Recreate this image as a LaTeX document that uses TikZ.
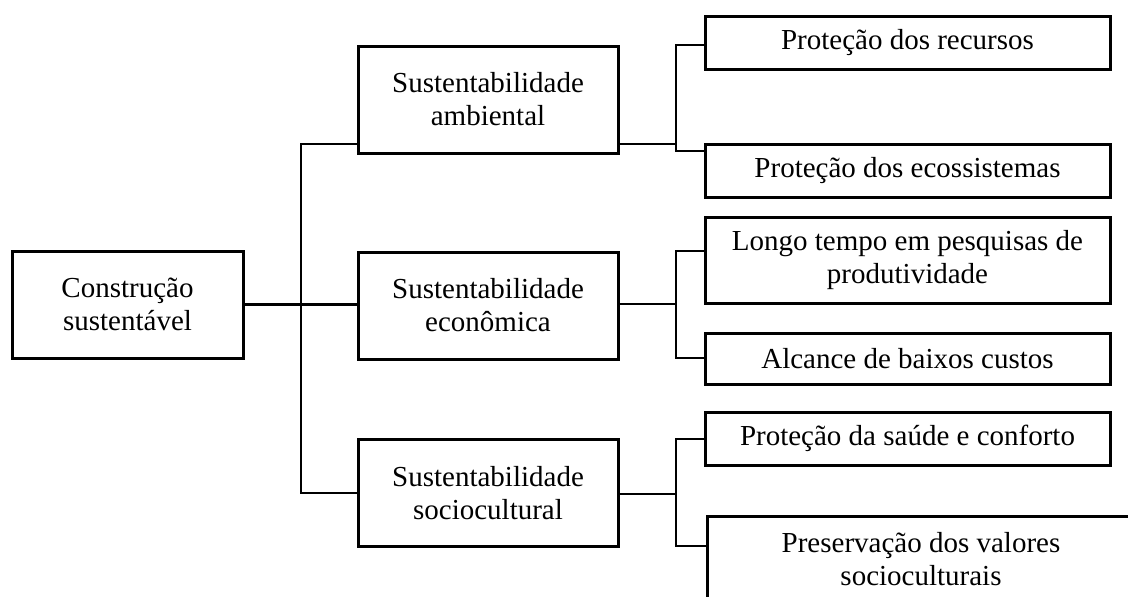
\documentclass[tikz,border=0pt]{standalone}
\usepackage{fontspec}
\setmainfont{Liberation Serif}
\usetikzlibrary{positioning,calc}
\tikzset{
	caixa/.style={draw,line width=1.5pt,inner sep=0pt,align=center,font=\fontsize{14.5}{16.5}\selectfont},
	raiz/.style={caixa,minimum width=115.5pt,minimum height=53.5pt},
	pilar/.style={caixa,minimum width=130pt,minimum height=53.5pt},
	item/.style={caixa,minimum width=202.5pt,minimum height=26.5pt},
	liga/.style={line width=1.4pt,line cap=rect}
}
\begin{document}
\begin{tikzpicture}[x=0.5pt,y=-0.5pt]
	\useasboundingbox (0,0) rectangle (1128,596);
	\clip (0,0) rectangle (1128,596);
	%%%raiz e pilares
	\node[raiz] (cs) at (127.5,304.5) {Construção\\sustentável};
	\node[pilar] (amb) at (488,99.5) {Sustentabilidade\\ambiental};
	\node[pilar] (eco) at (488,305.5) {Sustentabilidade\\econômica};
	\node[pilar] (soc) at (488,493) {Sustentabilidade\\sociocultural};
	
	%%%itens
	\node[item] (rec) at (907.5,42.5) {Proteção dos recursos};
	\node[item] (ecs) at (907.5,170.5) {Proteção dos ecossistemas};
	\node[item,minimum height=43pt] (lon) at (907.5,260) {Longo tempo em pesquisas de\\produtividade};
	\node[item,minimum height=25.5pt] (alc) at (907.5,358.5) {Alcance de baixos custos};
	\node[item] (sau) at (907.5,438.5) {Proteção da saúde e conforto};
	\node[item,minimum width=214pt,minimum height=43pt] (pre) at (921,559) {Preservação dos valores\\socioculturais};
	
	%%%tronco
	\coordinate (t1) at (301,144);
	\coordinate (t2) at (301,493);
	\draw[liga] (t1) -- (t2);
	\draw[liga] (t1) -- (t1 -| amb.west);
	\draw[liga] (t2) -- (t2 -| soc.west);
	\draw[liga] (cs.east) -- (cs.east -| eco.west);
	
	%%%ambiental
	\coordinate (a0) at (676,144);
	\coordinate (a1) at (676,45);
	\coordinate (a2) at (676,151);
	\draw[liga] (a0 -| amb.east) -- (a0);
	\draw[liga] (a1) -- (a2);
	\draw[liga] (a1) -- (a1 -| rec.west);
	\draw[liga] (a2) -- (a2 -| ecs.west);
	
	%%%economica
	\coordinate (e0) at (676,304);
	\coordinate (e1) at (676,251);
	\coordinate (e2) at (676,358);
	\draw[liga] (e0 -| eco.east) -- (e0);
	\draw[liga] (e1) -- (e2);
	\draw[liga] (e1) -- (e1 -| lon.west);
	\draw[liga] (e2) -- (e2 -| alc.west);
	
	%%%sociocultural
	\coordinate (s0) at (676,494);
	\coordinate (s1) at (676,439);
	\coordinate (s2) at (676,546);
	\draw[liga] (s0 -| soc.east) -- (s0);
	\draw[liga] (s1) -- (s2);
	\draw[liga] (s1) -- (s1 -| sau.west);
	\draw[liga] (s2) -- (s2 -| pre.west);
\end{tikzpicture}
\end{document}
